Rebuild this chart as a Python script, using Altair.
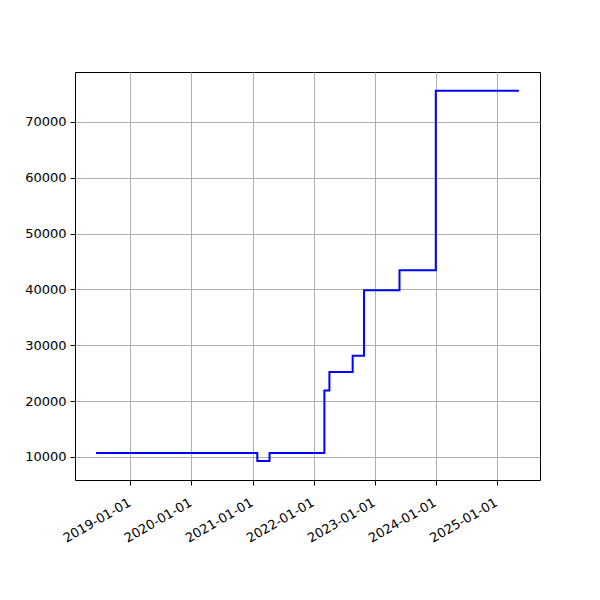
import altair as alt
import pandas as pd

dates = ["2018-06-10", "2021-01-29", "2021-04-12", "2022-03-06", "2022-04-05",
         "2022-08-22", "2022-10-29", "2023-05-29", "2024-01-01", "2025-05-12"]
values = [10700, 9300, 10700, 21900, 25200, 28150, 39850, 43450, 75600, 75600]

tick_years = [2019, 2020, 2021, 2022, 2023, 2024, 2025]
y_ticks = [10000, 20000, 30000, 40000, 50000, 60000, 70000]

df = pd.DataFrame({"date": dates, "value": values})

x_ticks = [alt.DateTime(year=y, month=1, date=1, utc=True) for y in tick_years]

chart = alt.Chart(df).mark_line(
    interpolate="step-after", color="#0000ff", strokeWidth=2
).encode(
    x=alt.X("date:T",
            scale=alt.Scale(type="utc",
                            domain=[alt.DateTime(year=2018, month=2, date=4, utc=True),
                                    alt.DateTime(year=2025, month=9, date=15, utc=True)]),
            axis=alt.Axis(values=x_ticks,
                          labelExpr="utcFormat(datum.value, '%Y-%m-%d')",
                          labelAngle=330, labelAlign="right", labelBaseline="top",
                          labelPadding=11, labelOffset=-4,
                          title=None)),
    y=alt.Y("value:Q",
            scale=alt.Scale(domain=[5880, 78950], nice=False, zero=False),
            axis=alt.Axis(values=y_ticks, format="d", title=None, labelPadding=4)),
).properties(
    width=465, height=408,
    autosize=alt.AutoSizeParams(type="none"),
    padding={"left": 67, "top": 64, "right": 52, "bottom": 112},
).configure_view(
    stroke="black", strokeWidth=1
).configure_axis(
    domain=False,
    grid=True, gridColor="#b0b0b0", gridWidth=1,
    tickColor="black", tickSize=5, tickWidth=1,
    labelFont="DejaVu Sans", labelFontSize=13, labelColor="black",
    labelFlush=False, labelOverlap=False
)

chart.save("out.html", embed_options={"renderer": "svg", "actions": False})
